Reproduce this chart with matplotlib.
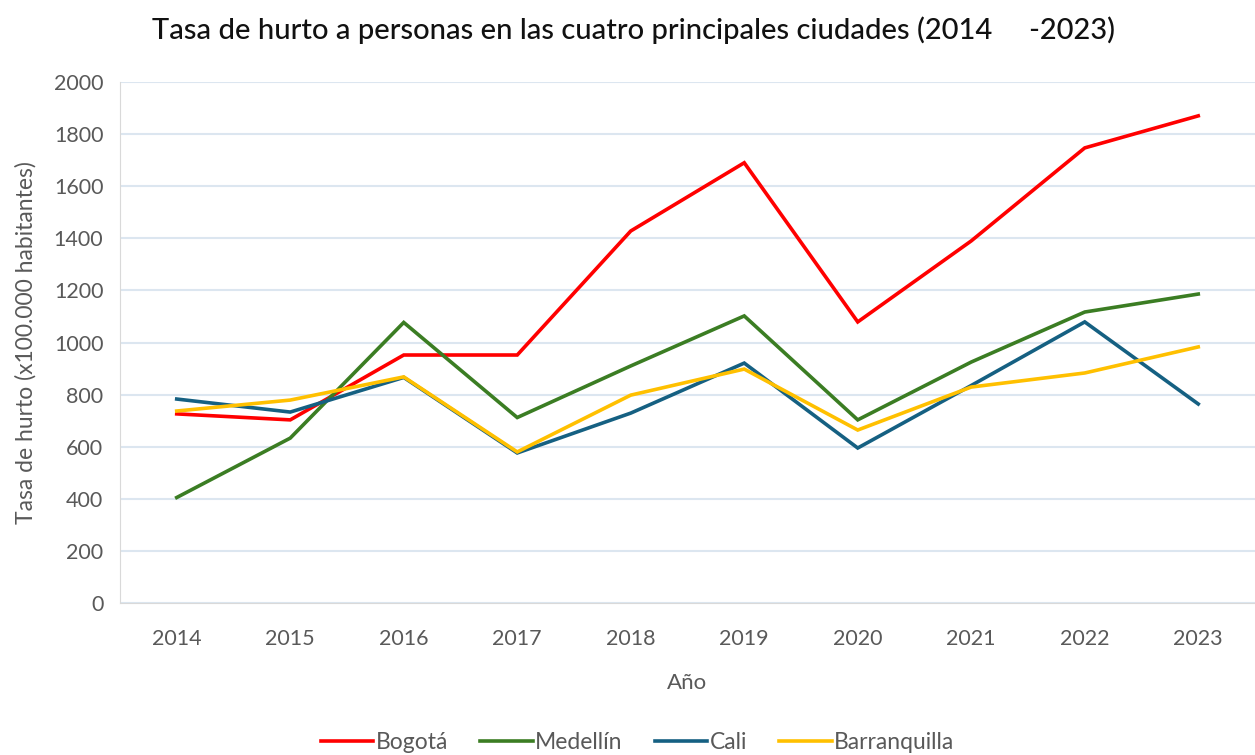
import matplotlib
matplotlib.use("Agg")
import matplotlib.pyplot as plt
import numpy as np

years = [2014, 2015, 2016, 2017, 2018, 2019, 2020, 2021, 2022, 2023]
bogota = [726, 703, 952, 952, 1428, 1690, 1079, 1390, 1747, 1870]
medellin = [405, 633, 1077, 712, 910, 1102, 703, 925, 1117, 1186]
cali = [783, 733, 866, 576, 729, 921, 595, 835, 1079, 764]
barranquilla = [737, 779, 868, 580, 798, 898, 664, 829, 883, 983]

series_names = ["Bogotá", "Medellín", "Cali", "Barranquilla"]
colors = ["#FF0000", "#3B7D23", "#156082", "#FFC000"]

plt.rcParams['font.family'] = ['Lato', 'DejaVu Sans']

fig = plt.figure(figsize=(12.55, 7.55), dpi=100)
ax = fig.add_axes([0.0956, 0.2013, 0.9044, 0.6901])

x = np.arange(len(years))
for vals, name, c in zip([bogota, medellin, cali, barranquilla], series_names, colors):
  ax.plot(x, vals, color=c, linewidth=2.6, label=name, solid_joinstyle='miter')

ax.set_xlim(-0.5, len(years) - 0.5)
ax.set_ylim(0, 2000)
ax.set_yticks(np.arange(0, 2001, 200))
ax.set_xticks(x)
ax.set_xticklabels([str(y) for y in years])

ax.grid(axis='y', color='#DCE6F0', linewidth=1.5)
ax.set_axisbelow(True)
for s in ['top', 'right']:
  ax.spines[s].set_visible(False)
ax.spines['left'].set_color('#D9D9D9')
ax.spines['bottom'].set_color('#D9D9D9')
ax.tick_params(length=0, labelsize=15.5, labelcolor='#595959', pad=12)
ax.tick_params(axis='x', pad=19)

ax.set_xlabel('Año', fontsize=16, color='#595959', labelpad=17)
ax.set_ylabel('Tasa de hurto (x100.000 habitantes)', fontsize=16.5, color='#595959', labelpad=12)

fig.text(0.505, 0.96, 'Tasa de hurto a personas en las cuatro principales ciudades (2014     -2023)',
         ha='center', va='center', fontsize=21, color='#111111', fontweight='medium')

fig.legend(loc='center', bbox_to_anchor=(0.508, 0.016), ncol=4, frameon=False,
           fontsize=16.5, handlelength=2.3, handletextpad=0.1, columnspacing=1.4,
           labelcolor='#595959')

plt.savefig('out.png', dpi=100)
plt.close()
